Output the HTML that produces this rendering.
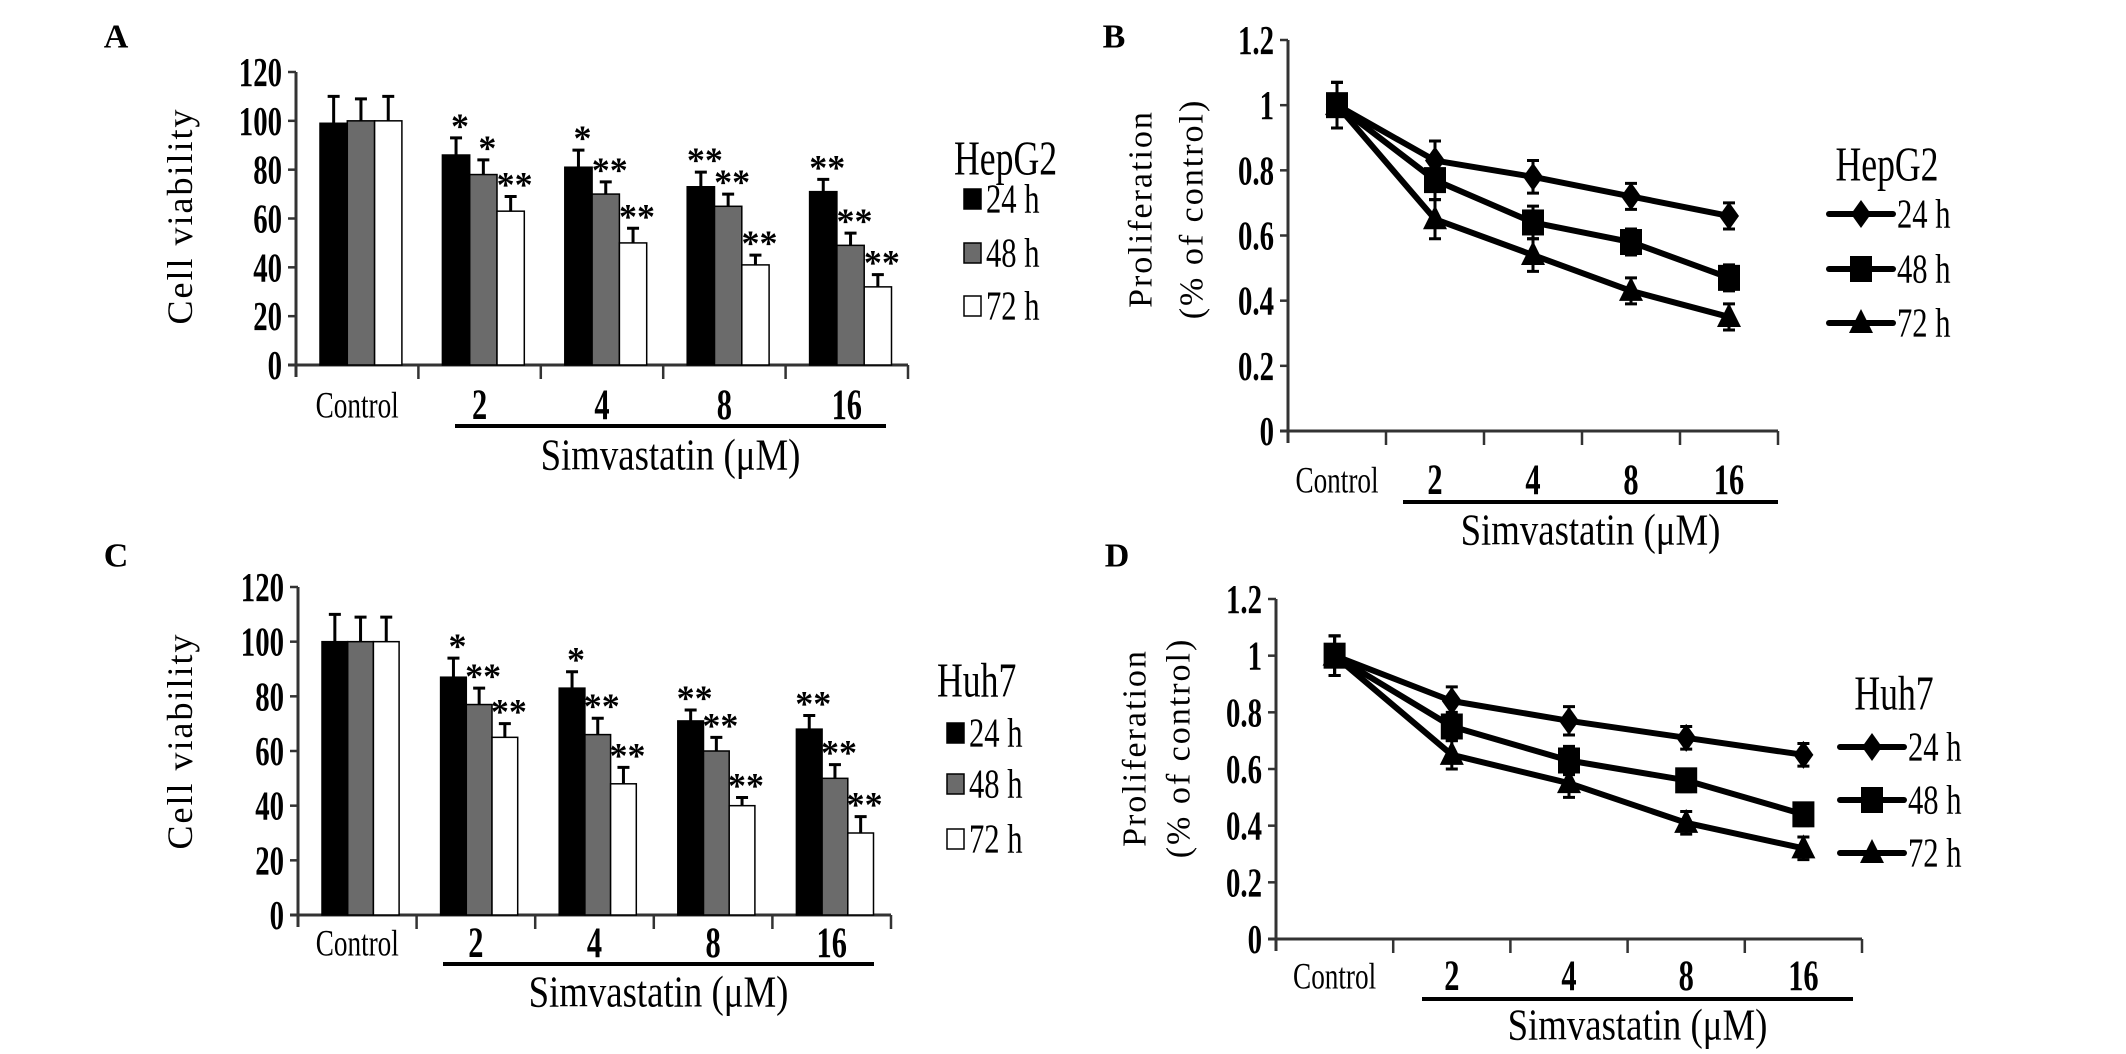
<!DOCTYPE html>
<html><head><meta charset="utf-8"><style>
html,body{margin:0;padding:0;background:#fff}
svg{display:block}
text{font-family:"Liberation Serif",serif;fill:#000}
</style></head><body>
<svg id="fig" width="2126" height="1054" viewBox="0 0 2126 1054" xmlns="http://www.w3.org/2000/svg"></svg>
<script>
const categories = ["Control","2","4","8","16"];
const seriesNames = ["24 h","48 h","72 h"];
// Panel A (HepG2 cell viability)
const aValues24 = [99,86,81,73,71];
const aValues48 = [100,78,70,65,49];
const aValues72 = [100,63,50,41,32];
const aErr24 = [11,7,7,6,5];
const aErr48 = [9,6,5,5,5];
const aErr72 = [10,6,6,4,5];
const aStars24 = ["","*","*","**","**"];
const aStars48 = ["","*","**","**","**"];
const aStars72 = ["","**","**","**","**"];
// Panel C (Huh7 cell viability)
const cValues24 = [100,87,83,71,68];
const cValues48 = [100,77,66,60,50];
const cValues72 = [100,65,48,40,30];
const cErr24 = [10,7,6,4,5];
const cErr48 = [9,6,6,5,5];
const cErr72 = [9,5,6,3,6];
const cStars24 = ["","*","*","**","**"];
const cStars48 = ["","**","**","**","**"];
const cStars72 = ["","**","**","**","**"];
// Panel B (HepG2 proliferation)
const bValues24 = [1,0.83,0.78,0.72,0.66];
const bValues48 = [1,0.77,0.64,0.58,0.47];
const bValues72 = [1,0.65,0.54,0.43,0.35];
const bErr = [0.07,0.06,0.05,0.04,0.04];
// Panel D (Huh7 proliferation)
const dValues24 = [1,0.84,0.77,0.71,0.65];
const dValues48 = [1,0.75,0.63,0.56,0.44];
const dValues72 = [1,0.65,0.55,0.41,0.32];
const dErr = [0.07,0.05,0.05,0.04,0.04];
const barTicks = [0,20,40,60,80,100,120];
const lineTicks = [0,0.2,0.4,0.6,0.8,1,1.2];
const lineTickLabels = ["0","0.2","0.4","0.6","0.8","1","1.2"];

const NS="http://www.w3.org/2000/svg";
const svg=document.getElementById('fig');
function mk(tag,attrs,parent){const e=document.createElementNS(NS,tag);for(const k in attrs)e.setAttribute(k,attrs[k]);(parent||svg).appendChild(e);return e;}
function txt(s,x,y,size,opts,parent){opts=opts||{};const t=mk('text',{x:0,y:0,'font-size':size,'text-anchor':opts.anchor||'middle','dominant-baseline':'central','font-weight':opts.bold?'bold':'normal',transform:`translate(${x},${y}) ${opts.rot?'rotate(-90)':''} scale(${opts.sx||1},${opts.sy||1})`,'letter-spacing':opts.ls||0},parent);t.textContent=s;return t;}

function barPanel(p){
  const g=mk('g',{});
  
  
  const y=v=>p.y0-(v/120)*(p.y0-p.y120);
  const cw=(p.x1-p.x0)/categories.length;
  const ax=mk('path',{d:`M${p.x0},${p.y120} V${p.y0+12} M${p.x0-8},${p.y0} H${p.x1}`,stroke:'#333','stroke-width':3,fill:'none'},g);
  
  for(let i=1;i<=categories.length;i++){mk('line',{x1:p.x0+i*cw,x2:p.x0+i*cw,y1:p.y0,y2:p.y0+14,stroke:'#333','stroke-width':2.5},g);}
  barTicks.forEach(v=>{mk('line',{x1:p.x0-8,x2:p.x0,y1:y(v),y2:y(v),stroke:'#333','stroke-width':2.5},g);
    const t=txt(String(v),p.x0-14,y(v),36,{anchor:'end',bold:true,sx:0.8,sy:1.15},g);
    });
  const fills=['#000','#6b6b6b','#fff'];
  const vals=[p.v24,p.v48,p.v72],errs=[p.e24,p.e48,p.e72],stars=[p.s24,p.s48,p.s72];
  const bw=p.bw;
  categories.forEach((c,i)=>{
    const gx=p.x0+i*cw+p.off;
    for(let s=0;s<3;s++){
      const v=vals[s][i],bx=gx+s*bw;
      const r=mk('rect',{x:bx,y:y(v),width:bw,height:p.y0-y(v),fill:fills[s],stroke:'#000','stroke-width':1.5},g);
      
      const ey=y(v+errs[s][i]),cx=bx+bw/2;
      mk('path',{d:`M${cx},${y(v)} V${ey} M${cx-6},${ey} H${cx+6}`,stroke:'#000','stroke-width':3},g);
      if(stars[s][i]){const st=txt(stars[s][i],cx+4,ey-12,36,{bold:true},g);
        }
    }
    const cl=txt(c,p.x0+i*cw+cw/2,p.catY,i==0?32:38,{bold:i>0,sx:i==0?0.85:0.8,sy:1.15},g);
    
  });
  mk('line',{x1:p.ulX0,x2:p.ulX1,y1:p.ulY,y2:p.ulY,stroke:'#000','stroke-width':4},g);
  const xt=txt('Simvastatin (μM)',(p.ulX0+p.ulX1)/2,p.simY,40,{sx:0.92,sy:1.1},g);
  
  const yt=txt('Cell viability',p.ylx,p.yly,36,{rot:true,ls:2},g);
  
  const pl=txt(p.letter,p.lx,p.ly,34,{bold:true},g);
  
  const lt=txt(p.cell,p.legX,p.legTY,42,{anchor:'start',sx:0.85,sy:1.15},g);
  
  p.legY.forEach((ly,s)=>{
    const le=mk('g',{},g);
    
    mk('rect',{x:p.legX+10,y:ly-10,width:17,height:20,fill:fills[s],stroke:'#000','stroke-width':1.5},le);
    txt(seriesNames[s],p.legX+32,ly,36,{anchor:'start',sx:0.85,sy:1.15},le);
  });
}

function marker(type,cx,cy,parent){
  if(type==0)return mk('polygon',{points:`${cx},${cy-14} ${cx+10},${cy} ${cx},${cy+14} ${cx-10},${cy}`,fill:'#000'},parent);
  if(type==1)return mk('rect',{x:cx-11,y:cy-13,width:22,height:26,fill:'#000'},parent);
  return mk('polygon',{points:`${cx},${cy-14} ${cx+12},${cy+10} ${cx-12},${cy+10}`,fill:'#000'},parent);
}

function linePanel(p){
  const g=mk('g',{});
  
  
  const y=v=>p.y0-(v/1.2)*(p.y0-p.y12);
  const cw=(p.x1-p.x0)/categories.length;
  const x=i=>p.x0+i*cw+cw/2;
  const ax=mk('path',{d:`M${p.x0},${p.y12} V${p.y0+12} M${p.x0-8},${p.y0} H${p.x1}`,stroke:'#333','stroke-width':3,fill:'none'},g);
  
  for(let i=1;i<=categories.length;i++){mk('line',{x1:p.x0+i*cw,x2:p.x0+i*cw,y1:p.y0,y2:p.y0+14,stroke:'#333','stroke-width':2.5},g);}
  lineTicks.forEach((v,k)=>{mk('line',{x1:p.x0-8,x2:p.x0,y1:y(v),y2:y(v),stroke:'#333','stroke-width':2.5},g);
    const t=txt(lineTickLabels[k],p.x0-14,y(v),36,{anchor:'end',bold:true,sx:0.8,sy:1.15},g);
    });
  const vals=[p.v24,p.v48,p.v72];
  vals.forEach((arr,s)=>{
    const sg=mk('g',{},g);
    
    mk('polyline',{points:arr.map((v,i)=>`${x(i)},${y(v)}`).join(' '),fill:'none',stroke:'#000','stroke-width':6,'stroke-linejoin':'round'},sg);
    arr.forEach((v,i)=>{
      const e=p.err[i],cx=x(i);
      mk('path',{d:`M${cx},${y(v-e)} V${y(v+e)} M${cx-6},${y(v+e)} H${cx+6} M${cx-6},${y(v-e)} H${cx+6}`,stroke:'#000','stroke-width':3},sg);
      const m=marker(s,cx,y(v),sg);
      
    });
  });
  categories.forEach((c,i)=>{
    const cl=txt(c,x(i),p.catY,i==0?32:38,{bold:i>0,sx:i==0?0.85:0.8,sy:1.15},g);
    
  });
  mk('line',{x1:p.ulX0,x2:p.ulX1,y1:p.ulY,y2:p.ulY,stroke:'#000','stroke-width':4},g);
  const xt=txt('Simvastatin (μM)',(p.ulX0+p.ulX1)/2,p.simY,40,{sx:0.92,sy:1.1},g);
  
  const yt=txt('Proliferation',p.ylx1,p.yly,34,{rot:true,ls:2},g);
  
  const yt2=txt('(% of control)',p.ylx2,p.yly,34,{rot:true,ls:2},g);
  
  const pl=txt(p.letter,p.lx,p.ly,34,{bold:true},g);
  
  const lt=txt(p.cell,p.legTX,p.legTY,42,{sx:0.85,sy:1.15},g);
  
  p.legY.forEach((ly,s)=>{
    const le=mk('g',{},g);
    
    mk('line',{x1:p.legX,x2:p.legX+64,y1:ly,y2:ly,stroke:'#000','stroke-width':6,'stroke-linecap':'round'},le);
    marker(s,p.legX+32,ly,le);
    txt(seriesNames[s],p.legX+68,ly,36,{anchor:'start',sx:0.85,sy:1.15},le);
  });
}

barPanel({name:'panel-a-hepg2-viability',letter:'A',lx:116,ly:37,x0:296,x1:908,y0:365,y120:72,bw:27.3,off:24,
  v24:aValues24,v48:aValues48,v72:aValues72,e24:aErr24,e48:aErr48,e72:aErr72,s24:aStars24,s48:aStars48,s72:aStars72,
  catY:405,ulX0:455,ulX1:886,ulY:426,simY:455,ylx:180,yly:216,cell:'HepG2',legX:954,legTY:159,legY:[199,253,306]});
barPanel({name:'panel-c-huh7-viability',letter:'C',lx:116,ly:556,x0:298,x1:891,y0:915,y120:587,bw:25.7,off:24,
  v24:cValues24,v48:cValues48,v72:cValues72,e24:cErr24,e48:cErr48,e72:cErr72,s24:cStars24,s48:cStars48,s72:cStars72,
  catY:943,ulX0:443,ulX1:874,ulY:964,simY:992,ylx:180,yly:741,cell:'Huh7',legX:937,legTY:681,legY:[733,784,839]});
linePanel({name:'panel-b-hepg2-proliferation',letter:'B',lx:1114,ly:37,x0:1288,x1:1778,y0:431,y12:40,
  v24:bValues24,v48:bValues48,v72:bValues72,err:bErr,catY:480,ulX0:1403,ulX1:1778,ulY:502,simY:530,
  ylx1:1141,ylx2:1192,yly:209,cell:'HepG2',legTX:1887,legTY:165,legX:1829,legY:[214,269,323]});
linePanel({name:'panel-d-huh7-proliferation',letter:'D',lx:1117,ly:556,x0:1276,x1:1862,y0:939,y12:599,
  v24:dValues24,v48:dValues48,v72:dValues72,err:dErr,catY:976,ulX0:1422,ulX1:1853,ulY:999,simY:1025,
  ylx1:1135,ylx2:1179,yly:748,cell:'Huh7',legTX:1894,legTY:694,legX:1840,legY:[747,800,853]});
</script>
</body></html>
